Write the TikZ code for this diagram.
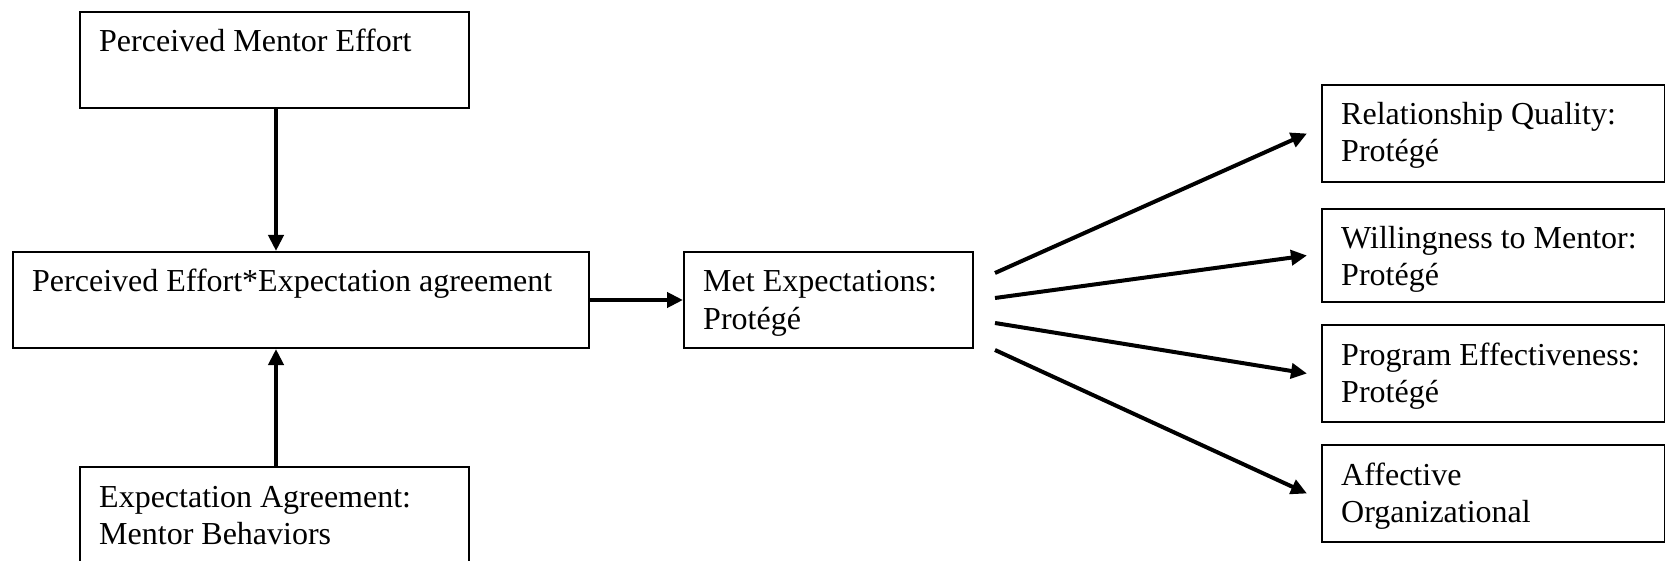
\documentclass[tikz,border=0pt]{standalone}
\usepackage{fontspec}
\setmainfont{Liberation Serif}
\usetikzlibrary{arrows.meta}
\newcommand{\twoln}[2]{\vtop{\hbox{#1}\hbox{#2}}}
\begin{document}
\begin{tikzpicture}[x=1pt,y=-1pt,
  every node/.style={font=\fontsize{32}{37}\selectfont},
  boxnode/.style={draw=black, line width=2pt, rectangle, inner sep=0pt, anchor=north west},
  lbl/.style={inner sep=0pt, anchor=base west},
  arr/.style={line width=4pt, -{Triangle[length=16pt,width=15pt]}},
  fan/.style={line width=4pt, -{Triangle[length=16pt,width=15pt]}}]
\useasboundingbox (0,0) rectangle (1665,561);
\clip (0,0) rectangle (1665,561);
% boxes
\node[boxnode, minimum width=389pt, minimum height=96pt] (pme) at (79,11) {};
\node[boxnode, minimum width=576pt, minimum height=96pt] (pee) at (12,251) {};
\node[boxnode, minimum width=389pt, minimum height=100pt] (eam) at (79,466) {};
\node[boxnode, minimum width=289pt, minimum height=96pt] (met) at (683,251) {};
\node[boxnode, minimum width=343pt, minimum height=97pt] (rq) at (1321,84) {};
\node[boxnode, minimum width=343pt, minimum height=93pt] (wm) at (1321,208) {};
\node[boxnode, minimum width=343pt, minimum height=97pt] (pe) at (1321,324) {};
\node[boxnode, minimum width=343pt, minimum height=97pt] (ao) at (1321,444) {};
% labels
\node[lbl] (tpme) at ([xshift=20pt,yshift=-41pt]pme.north west) {Perceived Mentor Effort};
\node[lbl] (tpee) at ([xshift=20pt,yshift=-41pt]pee.north west) {Perceived Effort*Expectation agreement};
\node[lbl] (team) at ([xshift=20pt,yshift=-41pt]eam.north west) {\twoln{Expectation Agreement:}{Mentor Behaviors}};
\node[lbl] (tmet) at ([xshift=20pt,yshift=-41pt]met.north west) {\twoln{Met Expectations:}{Protégé}};
\node[lbl] (trq) at ([xshift=20pt,yshift=-41pt]rq.north west) {\twoln{Relationship Quality:}{Protégé}};
\node[lbl] (twm) at ([xshift=20pt,yshift=-41pt]wm.north west) {\twoln{Willingness to Mentor:}{Protégé}};
\node[lbl] (tpe) at ([xshift=20pt,yshift=-41pt]pe.north west) {\twoln{Program Effectiveness:}{Protégé}};
\node[lbl] (tao) at ([xshift=20pt,yshift=-41pt]ao.north west) {\twoln{Affective}{Organizational}};
% connectors
\coordinate (vx) at (276,0);
\draw[arr] (pme.south -| vx) -- (pee.north -| vx);
\draw[arr] (eam.north -| vx) -- (pee.south -| vx);
\draw[arr] (pee.east) -- (met.west);
\coordinate (s1) at (995,273);
\coordinate (s2) at (995,298);
\coordinate (s3) at (995,323);
\coordinate (s4) at (995,350);
\draw[fan] (s1) -- ([xshift=-14pt]rq.west);
\draw[fan] (s2) -- ([xshift=-14pt]wm.west);
\draw[fan] (s3) -- ([xshift=-14pt]pe.west);
\draw[fan] (s4) -- ([xshift=-14pt]ao.west);
\end{tikzpicture}
\end{document}
